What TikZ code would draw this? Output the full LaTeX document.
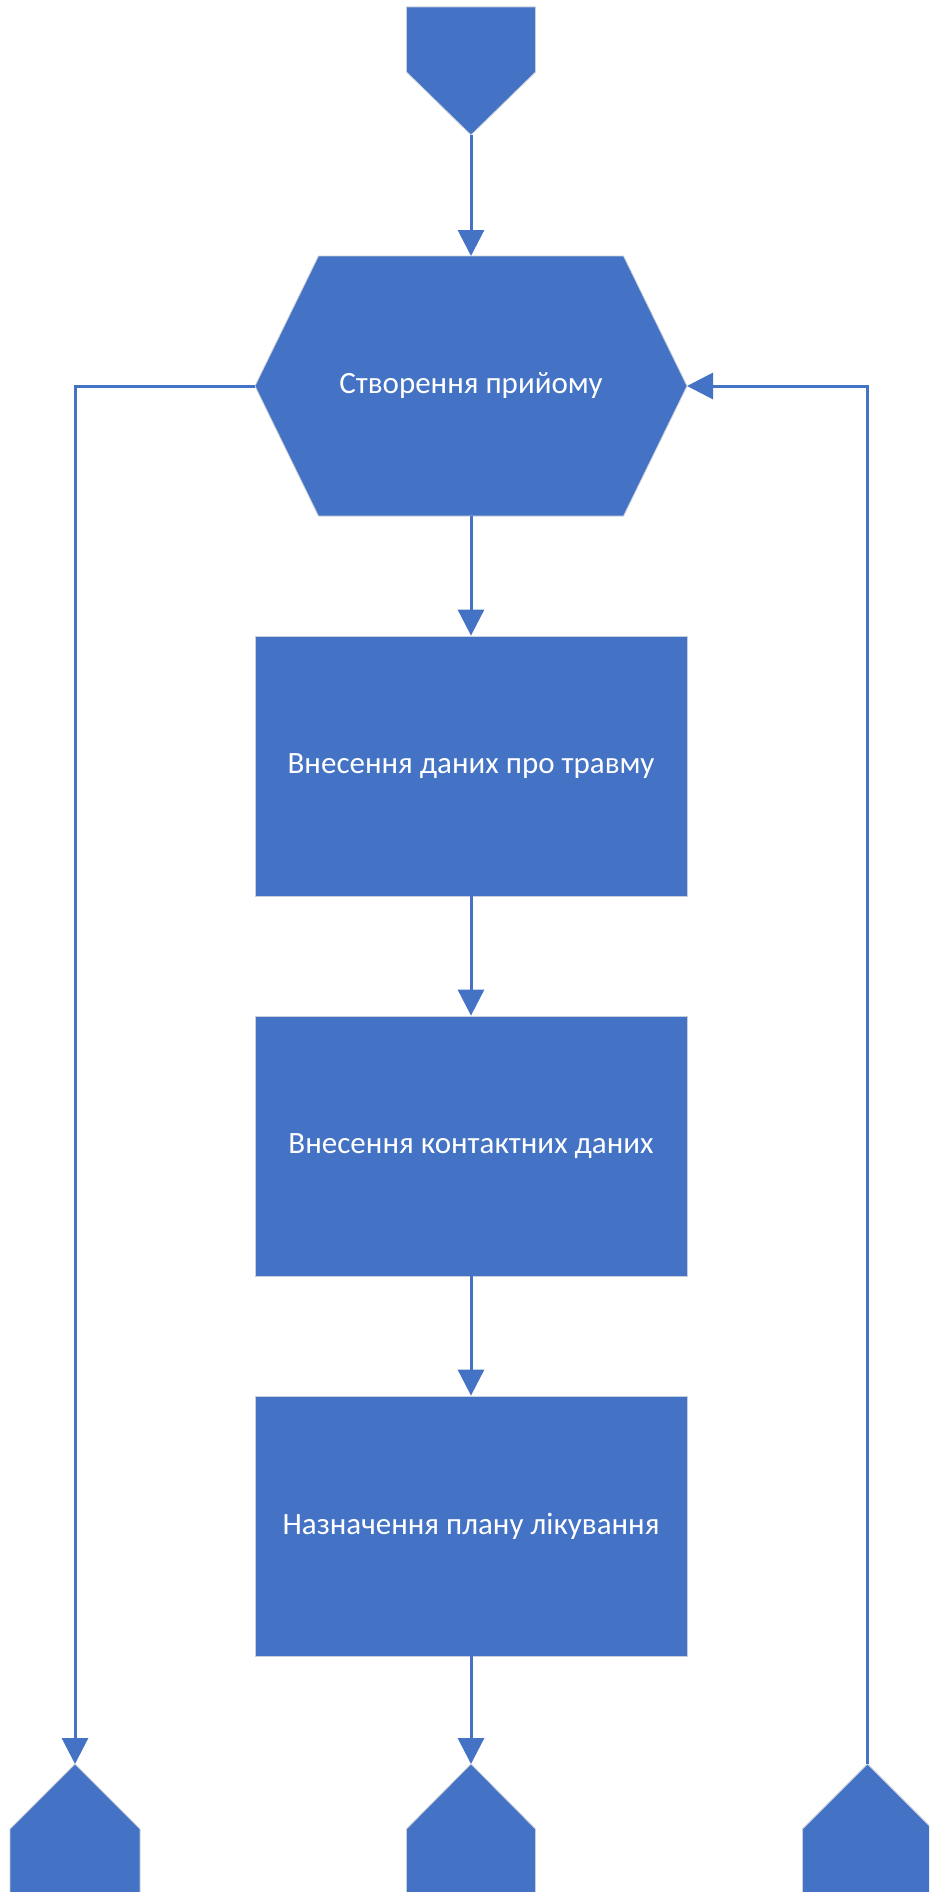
\documentclass[tikz,border=0pt]{standalone}
\usepackage{fontspec}
\setmainfont{Carlito}
\usetikzlibrary{arrows.meta}
\definecolor{flowblue}{HTML}{4472C4}
\definecolor{shapeedge}{HTML}{C9CFDA}
\tikzset{
  shapefill/.style={fill=flowblue, draw=shapeedge, line width=0.8pt},
  procbox/.style={shapefill, rectangle, minimum width=432pt, minimum height=260pt,
    inner sep=0pt, text=white, font=\fontsize{31}{37}\selectfont},
  label/.style={text=white, inner sep=0pt, font=\fontsize{31}{37}\selectfont},
  conn/.style={draw=flowblue, line width=3pt,
    -{Triangle[length=26pt,width=26pt]}},
  plainconn/.style={draw=flowblue, line width=3pt}
}
\begin{document}
\begin{tikzpicture}[x=1pt,y=-1pt]
\useasboundingbox (0,0) rectangle (929,1892);
\fill[white] (0,0) rectangle (929,1892);
\clip (0,0) rectangle (929,1892);

% off-page connector at the top
\path[shapefill] (406.5,7) -- (535.5,7) -- (535.5,72) -- (471,135) -- (406.5,72) -- cycle;
\coordinate (startTip) at (471,135);

% hexagon: preparation step
\path[shapefill] (318.5,256) -- (623.5,256) -- (687,386) -- (623.5,516) -- (318.5,516) -- (255,386) -- cycle;
\node[label] (prep) at (471,386) {Створення прийому};
\coordinate (hexN) at (471,256);
\coordinate (hexS) at (471,516);
\coordinate (hexW) at (255,386);
\coordinate (hexE) at (687,386);

% process steps
\node[procbox] (injury)  at (471,766)  {Внесення даних про травму};
\node[procbox] (contact) at (471,1146) {Внесення контактних даних};
\node[procbox] (plan)    at (471,1526) {Назначення плану лікування};

% off-page connectors at the bottom
\path[shapefill] (10,1895) -- (10,1829) -- (75,1764) -- (140,1829) -- (140,1895) -- cycle;
\path[shapefill] (406.5,1895) -- (406.5,1829) -- (471,1764) -- (535.5,1829) -- (535.5,1895) -- cycle;
\path[shapefill] (802.5,1895) -- (802.5,1829) -- (867.5,1764) -- (932.5,1829) -- (932.5,1895) -- cycle;
\coordinate (leftTip) at (75,1764);
\coordinate (midTip) at (471,1764);
\coordinate (rightTip) at (867.5,1764);

% connectors
\draw[conn] (startTip) -- (hexN);
\draw[conn] (hexS) -- (injury.north);
\draw[conn] (injury) -- (contact);
\draw[conn] (contact) -- (plan);
\draw[conn] (plan.south) -- (midTip);
\draw[conn] (hexW) -| (leftTip);
\draw[conn] (rightTip) |- (hexE);
\end{tikzpicture}
\end{document}
